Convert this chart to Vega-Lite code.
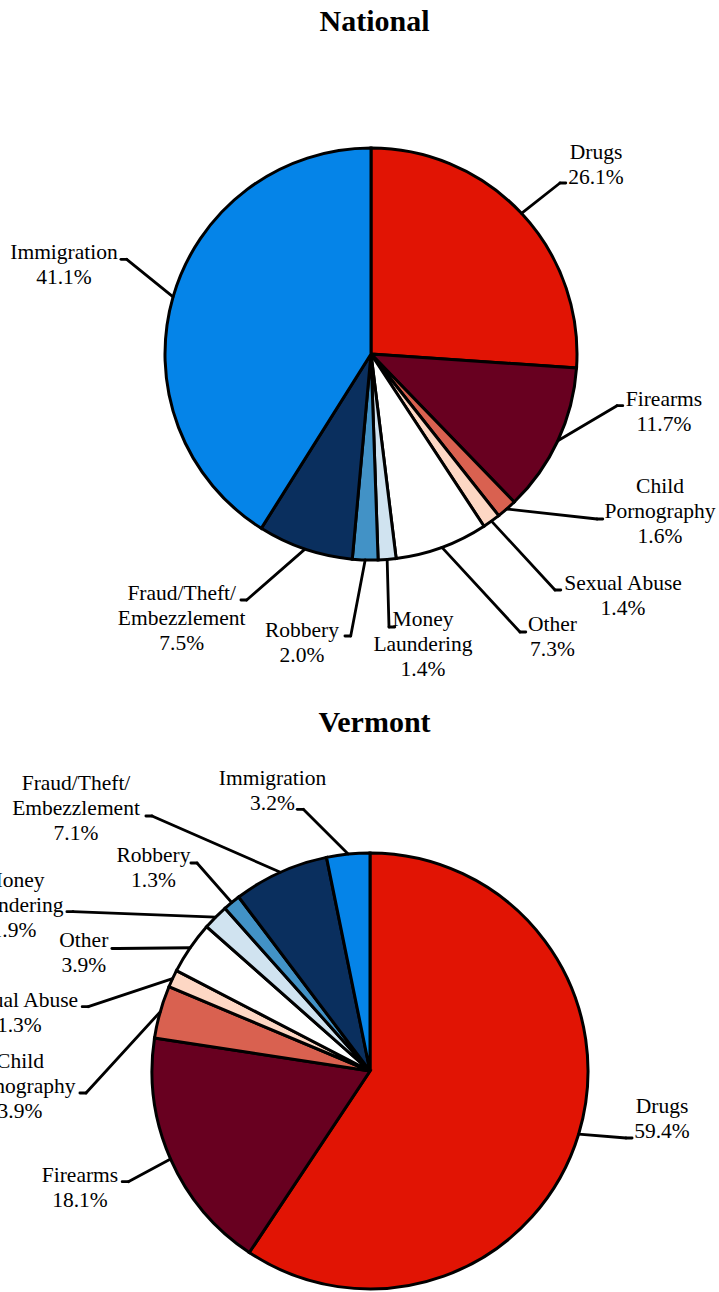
{
  "$schema": "https://vega.github.io/schema/vega-lite/v6.json",
  "padding": {"top": 7, "left": 0, "right": 0, "bottom": 0},
  "spacing": 18,
  "config": {"view": {"stroke": null}},
  "datasets": {
    "cases": [
      {"chart": "National", "category": "Drugs", "value": 26.1},
      {"chart": "National", "category": "Firearms", "value": 11.7},
      {"chart": "National", "category": "Child Pornography", "value": 1.6},
      {"chart": "National", "category": "Sexual Abuse", "value": 1.4},
      {"chart": "National", "category": "Other", "value": 7.3},
      {"chart": "National", "category": "Money Laundering", "value": 1.4},
      {"chart": "National", "category": "Robbery", "value": 2.0},
      {"chart": "National", "category": "Fraud/Theft/Embezzlement", "value": 7.5},
      {"chart": "National", "category": "Immigration", "value": 41.1},
      {"chart": "Vermont", "category": "Drugs", "value": 59.4},
      {"chart": "Vermont", "category": "Firearms", "value": 18.1},
      {"chart": "Vermont", "category": "Child Pornography", "value": 3.9},
      {"chart": "Vermont", "category": "Sexual Abuse", "value": 1.3},
      {"chart": "Vermont", "category": "Other", "value": 3.9},
      {"chart": "Vermont", "category": "Money Laundering", "value": 1.9},
      {"chart": "Vermont", "category": "Robbery", "value": 1.3},
      {"chart": "Vermont", "category": "Fraud/Theft/Embezzlement", "value": 7.1},
      {"chart": "Vermont", "category": "Immigration", "value": 3.2}
    ],
    "national_labels": [
      {"category": "Drugs", "lx": 1.0922, "ly": 0.9490, "kx": 0.9175, "ky": 0.8301},
      {"category": "Firearms", "lx": 1.4223, "ly": -0.2510, "kx": 1.1942, "ky": -0.2510},
      {"category": "Child Pornography", "lx": 1.4029, "ly": -0.6748, "kx": 1.0971, "ky": -0.8010},
      {"category": "Sexual Abuse", "lx": 1.2233, "ly": -1.1456, "kx": 0.8932, "ky": -1.1456},
      {"category": "Other", "lx": 0.8811, "ly": -1.3447, "kx": 0.7233, "ky": -1.3495},
      {"category": "Money Laundering", "lx": 0.2524, "ly": -1.3204, "kx": 0.0874, "ky": -1.3252},
      {"category": "Robbery", "lx": -0.3350, "ly": -1.3723, "kx": -0.0985, "ky": -1.3689},
      {"category": "Fraud/Theft/Embezzlement", "lx": -0.9189, "ly": -1.1942, "kx": -0.6034, "ky": -1.1942},
      {"category": "Immigration", "lx": -1.4903, "ly": 0.4597, "kx": -1.1859, "ky": 0.4597}
    ],
    "vermont_labels": [
      {"category": "Drugs", "lx": 1.3394, "ly": -0.1927, "kx": 1.1743, "ky": -0.3073},
      {"category": "Firearms", "lx": -1.3303, "ly": -0.5078, "kx": -1.1087, "ky": -0.5078},
      {"category": "Child Pornography", "lx": -1.6055, "ly": 0.0138, "kx": -1.3028, "ky": -0.1009},
      {"category": "Sexual Abuse", "lx": -1.6087, "ly": 0.2950, "kx": -1.2922, "ky": 0.2950},
      {"category": "Other", "lx": -1.3128, "ly": 0.5702, "kx": -1.1560, "ky": 0.5619},
      {"category": "Money Laundering", "lx": -1.6330, "ly": 0.8454, "kx": -1.3624, "ky": 0.7307},
      {"category": "Robbery", "lx": -0.9931, "ly": 0.9601, "kx": -0.7936, "ky": 0.9541},
      {"category": "Fraud/Theft/Embezzlement", "lx": -1.3486, "ly": 1.2890, "kx": -1.0, "ky": 1.1697},
      {"category": "Immigration", "lx": -0.4472, "ly": 1.3119, "kx": -0.3060, "ky": 1.2005}
    ]
  },
  "vconcat": [
    {
      "title": {"text": "National", "font": "Liberation Serif", "fontSize": 30, "fontWeight": "bold", "color": "black", "offset": 8, "dx": 15, "anchor": "middle", "frame": "group"},
      "width": 719,
      "height": 645,
      "data": {"name": "cases"},
      "transform": [
        {"filter": "datum.chart === 'National'"},
        {"calculate": "indexof(['Drugs','Firearms','Child Pornography','Sexual Abuse','Other','Money Laundering','Robbery','Fraud/Theft/Embezzlement','Immigration'], datum.category)", "as": "idx"},
        {"joinaggregate": [{"op": "sum", "field": "value", "as": "total"}]},
        {"window": [{"op": "sum", "field": "value", "as": "cum"}], "sort": [{"field": "idx"}], "frame": [null, 0]},
        {"calculate": "2*PI*(datum.cum - datum.value/2)/datum.total", "as": "mid"},
        {"calculate": "sin(datum.mid)", "as": "sx"},
        {"calculate": "cos(datum.mid)", "as": "sy"},
        {"lookup": "category", "from": {"data": {"name": "national_labels"}, "key": "category", "fields": ["lx", "ly", "kx", "ky"]}},
        {"calculate": "datum.kx + (datum.lx > datum.kx ? 0.028 : -0.028)", "as": "hx"},
        {"calculate": "split(replace(replace(replace(datum.category, 'Child ', 'Child|'), 'Money ', 'Money|'), 'Theft/', 'Theft/|') + '|' + format(datum.value, '.1f') + '%', '|')", "as": "label"}
      ],
      "layer": [
        {
          "mark": {"type": "arc", "radius": 206, "stroke": "black", "strokeWidth": 3},
          "encoding": {
            "theta": {"field": "value", "type": "quantitative", "stack": true},
            "order": {"field": "idx", "type": "quantitative"},
            "color": {"field": "category", "type": "nominal", "legend": null,
              "scale": {"domain": ["Drugs", "Firearms", "Child Pornography", "Sexual Abuse", "Other", "Money Laundering", "Robbery", "Fraud/Theft/Embezzlement", "Immigration"],
                        "range": ["#E11404", "#680020", "#D96150", "#FDD7C4", "#FFFFFF", "#D0E3F0", "#4292C6", "#0A2F5E", "#0584E8"]}},
            "x": {"datum": 0, "type": "quantitative", "axis": null, "scale": {"domain": [-1.80097, 1.68932], "nice": false, "zero": false}},
            "y": {"datum": 0, "type": "quantitative", "axis": null, "scale": {"domain": [-1.63107, 1.5], "nice": false, "zero": false}}
          }
        },
        {
          "mark": {"type": "rule", "color": "black", "strokeWidth": 2.8, "strokeCap": "round"},
          "encoding": {
            "x": {"field": "sx", "type": "quantitative", "axis": null},
            "y": {"field": "sy", "type": "quantitative", "axis": null},
            "x2": {"field": "kx"},
            "y2": {"field": "ky"}
          }
        },
        {
          "mark": {"type": "rule", "color": "black", "strokeWidth": 2.8, "strokeCap": "round"},
          "encoding": {
            "x": {"field": "kx", "type": "quantitative", "axis": null},
            "y": {"field": "ky", "type": "quantitative", "axis": null},
            "x2": {"field": "hx"}
          }
        },
        {
          "mark": {"type": "text", "font": "Liberation Serif", "fontSize": 21.5, "lineHeight": 25, "align": "center", "baseline": "alphabetic", "color": "black", "clip": true},
          "encoding": {
            "x": {"field": "lx", "type": "quantitative", "axis": null},
            "y": {"field": "ly", "type": "quantitative", "axis": null},
            "text": {"field": "label", "type": "nominal"}
          }
        }
      ]
    },
    {
      "title": {"text": "Vermont", "font": "Liberation Serif", "fontSize": 30, "fontWeight": "bold", "color": "black", "offset": 8, "dx": 15, "anchor": "middle", "frame": "group"},
      "width": 719,
      "height": 544,
      "data": {"name": "cases"},
      "transform": [
        {"filter": "datum.chart === 'Vermont'"},
        {"calculate": "indexof(['Drugs','Firearms','Child Pornography','Sexual Abuse','Other','Money Laundering','Robbery','Fraud/Theft/Embezzlement','Immigration'], datum.category)", "as": "idx"},
        {"joinaggregate": [{"op": "sum", "field": "value", "as": "total"}]},
        {"window": [{"op": "sum", "field": "value", "as": "cum"}], "sort": [{"field": "idx"}], "frame": [null, 0]},
        {"calculate": "2*PI*(datum.cum - datum.value/2)/datum.total", "as": "mid"},
        {"calculate": "sin(datum.mid)", "as": "sx"},
        {"calculate": "cos(datum.mid)", "as": "sy"},
        {"lookup": "category", "from": {"data": {"name": "vermont_labels"}, "key": "category", "fields": ["lx", "ly", "kx", "ky"]}},
        {"calculate": "datum.kx + (datum.lx > datum.kx ? 0.028 : -0.028)", "as": "hx"},
        {"calculate": "split(replace(replace(replace(datum.category, 'Child ', 'Child|'), 'Money ', 'Money|'), 'Theft/', 'Theft/|') + '|' + format(datum.value, '.1f') + '%', '|')", "as": "label"}
      ],
      "layer": [
        {
          "mark": {"type": "arc", "radius": 218, "stroke": "black", "strokeWidth": 3},
          "encoding": {
            "theta": {"field": "value", "type": "quantitative", "stack": true},
            "order": {"field": "idx", "type": "quantitative"},
            "color": {"field": "category", "type": "nominal", "legend": null,
              "scale": {"domain": ["Drugs", "Firearms", "Child Pornography", "Sexual Abuse", "Other", "Money Laundering", "Robbery", "Fraud/Theft/Embezzlement", "Immigration"],
                        "range": ["#E11404", "#680020", "#D96150", "#FDD7C4", "#FFFFFF", "#D0E3F0", "#4292C6", "#0A2F5E", "#0584E8"]}},
            "x": {"datum": 0, "type": "quantitative", "axis": null, "scale": {"domain": [-1.69725, 1.60092], "nice": false, "zero": false}},
            "y": {"datum": 0, "type": "quantitative", "axis": null, "scale": {"domain": [-1.00459, 1.49083], "nice": false, "zero": false}}
          }
        },
        {
          "mark": {"type": "rule", "color": "black", "strokeWidth": 2.8, "strokeCap": "round"},
          "encoding": {
            "x": {"field": "sx", "type": "quantitative", "axis": null},
            "y": {"field": "sy", "type": "quantitative", "axis": null},
            "x2": {"field": "kx"},
            "y2": {"field": "ky"}
          }
        },
        {
          "mark": {"type": "rule", "color": "black", "strokeWidth": 2.8, "strokeCap": "round"},
          "encoding": {
            "x": {"field": "kx", "type": "quantitative", "axis": null},
            "y": {"field": "ky", "type": "quantitative", "axis": null},
            "x2": {"field": "hx"}
          }
        },
        {
          "mark": {"type": "text", "font": "Liberation Serif", "fontSize": 21.5, "lineHeight": 25, "align": "center", "baseline": "alphabetic", "color": "black", "clip": true},
          "encoding": {
            "x": {"field": "lx", "type": "quantitative", "axis": null},
            "y": {"field": "ly", "type": "quantitative", "axis": null},
            "text": {"field": "label", "type": "nominal"}
          }
        }
      ]
    }
  ]
}
